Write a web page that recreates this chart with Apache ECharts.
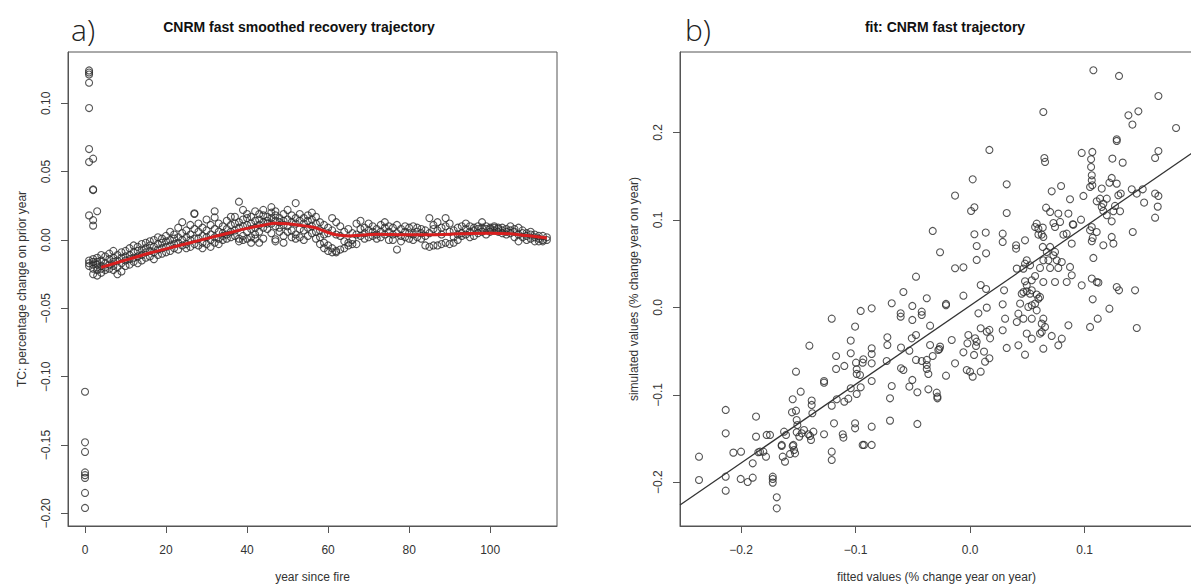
<!DOCTYPE html>
<html><head><meta charset="utf-8">
<script src="https://cdn.jsdelivr.net/npm/echarts@6/dist/echarts.min.js"></script>
<style>html,body{margin:0;padding:0;background:#fff}#c{width:1191px;height:586px}</style>
</head><body><div id="c"></div>
<script>
// ---------- panel a data ----------
const tcYears = [];
for (let y = 0; y <= 114; y++) tcYears.push(y);
const tcByYear = [
[-0.111,-0.148,-0.155,-0.170,-0.172,-0.174,-0.185,-0.196],
[0.124,0.1225,0.121,0.115,0.0965,0.0665,0.057,0.018,-0.015,-0.017,-0.019],
[0.0595,0.037,0.0365,0.0145,0.0105,-0.014,-0.016,-0.018,-0.025,-0.021],
[0.021,-0.013,-0.016,-0.020,-0.026,-0.022,-0.018],
[-0.011,-0.015,-0.019,-0.021,-0.024],
[-0.012,-0.017,-0.020,-0.022],
[-0.010,-0.014,-0.018,-0.021],
[-0.008,-0.013,-0.016,-0.019,-0.022],
[-0.011,-0.015,-0.020,-0.025],
[-0.009,-0.013,-0.017,-0.023],
[-0.008,-0.012,-0.015,-0.019],
[-0.006,-0.011,-0.014,-0.018],
[-0.004,-0.009,-0.013,-0.016],
[-0.005,-0.008,-0.012,-0.017],
[-0.003,-0.007,-0.011,-0.015],
[-0.002,-0.006,-0.009,-0.013],
[-0.001,-0.004,-0.008,-0.012],
[0.000,-0.005,-0.009,-0.014],
[0.002,-0.003,-0.007,-0.011],
[0.001,-0.002,-0.006,-0.010],
[0.003,-0.001,-0.005,-0.009],
[0.006,0.000,-0.004,-0.008],
[0.004,0.001,-0.003,-0.006],
[0.009,0.002,-0.002,-0.007],
[0.013,0.005,0.000,-0.004],
[0.007,0.002,-0.003,-0.006],
[0.011,0.004,0.000,-0.005],
[0.0195,0.019,0.008,0.001,-0.003],
[0.012,0.006,0.001,-0.004],
[0.009,0.003,-0.002,-0.006],
[0.015,0.007,0.002,-0.003],
[0.011,0.004,0.000,-0.005],
[0.021,0.0165,0.008,0.002,-0.002],
[0.012,0.006,0.001,-0.003],
[0.010,0.005,0.003,0.000],
[0.014,0.008,0.004,0.001],
[0.017,0.011,0.006,0.002],
[0.017,0.012,0.007,0.003],
[0.028,0.013,0.009,0.001,-0.001],
[0.022,0.015,0.010,0.003,0.000],
[0.019,0.016,0.011,0.006,0.001],
[0.017,0.012,0.008,0.002,-0.002],
[0.021,0.014,0.009,0.004,0.001],
[0.019,0.015,0.011,0.006,-0.002],
[0.022,0.018,0.013,0.009,0.001],
[0.017,0.014,0.012,0.008],
[0.024,0.020,0.016,0.012,0.005],
[0.021,0.018,0.014,0.010,0.0005,-0.001],
[0.016,0.013,0.009,0.006],
[0.019,0.014,0.011,0.003,-0.002],
[0.022,0.015,0.010,0.006],
[0.018,0.013,0.007,0.002],
[0.027,0.016,0.012,0.004,0.001],
[0.019,0.014,0.008,0.002],
[0.016,0.012,0.007,0.000],
[0.018,0.014,0.009,0.003],
[0.020,0.015,0.010,0.005],
[0.017,0.012,0.006,0.001],
[0.013,0.007,0.002,-0.003],
[0.011,0.004,-0.002,-0.006],
[0.009,0.005,-0.004,-0.008],
[0.016,0.007,-0.006,-0.009],
[0.013,0.004,-0.008,-0.009],
[0.010,0.003,-0.007],
[0.006,-0.001,-0.006],
[0.008,-0.002,-0.004],
[0.005,0.000,-0.003],
[0.012,0.004,-0.003],
[0.014,0.008,0.003],
[0.009,0.005,0.001],
[0.012,0.007,0.002],
[0.010,0.006,0.003],
[0.008,0.004,0.001],
[0.011,0.006,0.002],
[0.013,0.009,0.004],
[0.010,0.006,0.000],
[0.009,0.004,0.000],
[0.011,0.005,-0.007],
[0.008,0.003,-0.001],
[0.010,0.006,0.002],
[0.009,0.005,0.001],
[0.010,0.004,0.000],
[0.009,0.006,0.002],
[0.008,0.005,0.001],
[0.007,0.003,-0.004],
[0.016,0.005,-0.005],
[0.011,0.008,-0.004],
[0.013,0.007,-0.004],
[0.009,0.004,-0.003],
[0.016,0.010,-0.002],
[0.012,0.006,-0.003],
[0.007,0.002,-0.002],
[0.009,0.004,0.000],
[0.010,0.005,0.003],
[0.012,0.008,0.004],
[0.010,0.006,0.002],
[0.009,0.007,0.003],
[0.010,0.008,0.005],
[0.013,0.009,0.006],
[0.010,0.008,0.004],
[0.009,0.008,0.006],
[0.010,0.009,0.007],
[0.009,0.008,0.006],
[0.009,0.007,0.005],
[0.008,0.006,0.004],
[0.010,0.007,0.005],
[0.008,0.006,0.002],
[0.009,0.004,-0.001],
[0.007,0.005,0.002],
[0.005,0.003,0.000],
[0.006,0.004,0.001],
[0.004,0.002,-0.001],
[0.003,0.001,-0.001],
[0.003,0.000,-0.001],
[0.002,0.000]
];
const smoothYears = [4,8,12,16,20,24,28,32,36,40,44,47,50,53,56,58,60,62,65,68,72,76,80,85,90,95,100,105,109,114];
const smoothTC = [-0.020,-0.0165,-0.013,-0.0095,-0.0065,-0.0035,-0.0005,0.0025,0.0055,0.0085,0.0108,0.0122,0.0118,0.0108,0.0095,0.0078,0.0055,0.0038,0.0030,0.0035,0.0042,0.0040,0.0038,0.0038,0.0042,0.0048,0.0050,0.0045,0.0032,0.0015];
const yearTicks = [0,20,40,60,80,100];
const tcTicks = [-0.2,-0.15,-0.1,-0.05,0,0.05,0.1];

// ---------- panel b data: [fitted, simulated] ----------
const fitSimPoints = [
[-0.2367,-0.1707],[-0.2367,-0.1974],[-0.2134,-0.1173],[-0.2134,-0.144],[-0.2134,-0.1936],[-0.2134,-0.2096],
[-0.2067,-0.1661],[-0.2,-0.165],[-0.2003,-0.1962],[-0.1942,-0.1997],[-0.1898,-0.1783],[-0.1898,-0.1947],
[-0.1869,-0.1249],[-0.1869,-0.1478],[-0.1849,-0.1657],[-0.1834,-0.165],[-0.1805,-0.165],[-0.1782,-0.1707],
[-0.1776,-0.1459],[-0.1747,-0.1459],[-0.1723,-0.1936],[-0.1723,-0.1962],[-0.1723,-0.2004],[-0.1688,-0.2172],
[-0.1688,-0.2298],[-0.1645,-0.1573],[-0.1645,-0.1585],[-0.1636,-0.1707],[-0.1624,-0.1421],[-0.1616,-0.1764],
[-0.1607,-0.1459],[-0.1572,-0.1676],[-0.1555,-0.12],[-0.1549,-0.1051],[-0.1549,-0.1585],[-0.1543,-0.1573],
[-0.1537,-0.1631],[-0.1528,-0.1669],[-0.152,-0.0735],[-0.152,-0.1181],[-0.1514,-0.1288],[-0.1514,-0.1428],
[-0.1508,-0.1345],[-0.1491,-0.1478],[-0.1479,-0.0964],[-0.147,-0.144],[-0.145,-0.1402],[-0.1412,-0.1451],
[-0.1403,-0.0438],[-0.1397,-0.147],[-0.1389,-0.1516],[-0.1383,-0.1066],[-0.1383,-0.1116],[-0.1377,-0.1211],
[-0.1368,-0.1421],[-0.1275,-0.0842],[-0.1275,-0.0861],[-0.1275,-0.1451],[-0.1208,-0.1745],[-0.1208,-0.165],
[-0.1208,-0.0129],[-0.1208,-0.1124],[-0.1188,-0.1326],[-0.117,-0.0556],[-0.117,-0.0704],[-0.1164,-0.1051],
[-0.1112,-0.1451],[-0.1106,-0.1489],[-0.1098,-0.067],[-0.1098,-0.1078],[-0.1063,-0.1044],[-0.1042,-0.038],
[-0.1042,-0.0525],[-0.1042,-0.0925],[-0.1004,-0.022],[-0.1004,-0.1326],[-0.1004,-0.1383],[-0.0996,-0.0632],
[-0.099,-0.0708],[-0.099,-0.0761],[-0.099,-0.099],[-0.0961,-0.0773],[-0.0955,-0.0041],[-0.0955,-0.0914],
[-0.0938,-0.0632],[-0.0938,-0.1573],[-0.0932,-0.0594],[-0.0926,-0.1573],[-0.0859,-0.0011],[-0.0859,-0.0468],
[-0.0859,-0.0533],[-0.0859,-0.064],[-0.0859,-0.0842],[-0.0859,-0.1364],[-0.0859,-0.1573],
[0.0169,0.18],[0.0023,0.1464],[-0.0131,0.1278],[0.0009,0.1102],[0.0038,0.1144],[-0.0326,0.0874],
[-0.0262,0.063],[0.0038,0.0836],[0.0137,0.0855],[0.0058,0.0702],[0.014,0.0618],[0.0058,0.0542],
[-0.0131,0.0447],[-0.0058,0.0458],[-0.0472,0.0351],[-0.0582,0.0176],[-0.0378,0.0104],[-0.021,0.0039],
[-0.021,0.0024],[-0.0058,0.0134],[0.0093,0.0256],[0.014,0.021],[-0.0684,0.0047],[-0.0504,0.0016],
[-0.0606,-0.0068],[-0.0606,-0.0106],[-0.0422,-0.0049],[-0.0422,-0.0087],[-0.0504,-0.0144],[-0.0349,-0.0209],
[0.0073,-0.0068],[0.0146,-0.0003],[-0.0722,-0.0342],[-0.0722,-0.043],[-0.0472,-0.0316],[-0.0509,-0.0354],
[-0.0603,-0.046],[-0.053,-0.0495],[-0.0349,-0.043],[-0.0262,-0.0449],[-0.0268,-0.0476],[-0.016,-0.0373],
[-0.0015,-0.0316],[-0.0023,-0.0411],[0.0044,-0.0354],[0.0058,-0.0392],[0.0052,-0.0441],[0.0093,-0.0239],
[0.0146,-0.0278],[0.0169,-0.0258],[0.0175,-0.0354],[-0.0058,-0.0514],[0.0035,-0.0544],[0.0122,-0.0506],
[0.0169,-0.0582],[0.0131,-0.0621],[-0.0728,-0.0613],[-0.0603,-0.0697],[-0.0582,-0.0716],[-0.0472,-0.0601],
[-0.0422,-0.0613],[-0.0378,-0.0601],[-0.0378,-0.0659],[-0.0378,-0.0704],[-0.0364,-0.0762],[-0.0326,-0.0556],
[-0.0277,-0.0487],[-0.0131,-0.064],[-0.021,-0.0781],[-0.0029,-0.0716],[0.0,-0.0735],[0.0023,-0.0792],
[0.0093,-0.0735],[-0.0684,-0.0899],[-0.0504,-0.083],[-0.053,-0.0906],[-0.046,-0.0971],[-0.0364,-0.0937],
[-0.0291,-0.0975],[-0.0285,-0.1021],[-0.0285,-0.104],[-0.0699,-0.104],[-0.0699,-0.1295],[-0.046,-0.1333],
[0.1077,0.2711],[0.1301,0.2646],[0.1645,0.2417],[0.064,0.2234],[0.1383,0.2196],[0.147,0.2242],
[0.1418,0.209],[0.1799,0.2051],[0.1281,0.1922],[0.1281,0.1903],[0.0975,0.1766],[0.1068,0.1777],
[0.0649,0.1708],[0.0655,0.1663],[0.1057,0.1693],[0.1057,0.1605],[0.1243,0.1701],[0.1333,0.1655],
[0.1645,0.1788],[0.1616,0.1708],[0.1063,0.151],[0.1063,0.1453],[0.1068,0.1396],[0.1048,0.1377],
[0.1237,0.148],[0.1281,0.1415],[0.1295,0.1282],[0.1316,0.1301],[0.1217,0.1426],[0.115,0.1358],
[0.1135,0.1243],[0.1194,0.1243],[0.1164,0.1186],[0.1412,0.135],[0.1456,0.1301],[0.1508,0.135],
[0.1616,0.1301],[0.1645,0.1274],[0.152,0.1198],[0.1639,0.1152],[0.1616,0.1026],[0.131,0.1099],
[0.1266,0.116],[0.1252,0.1099],[0.1237,0.0984],[0.1194,0.1053],[0.115,0.1148],[0.1164,0.1102],
[0.1106,0.1213],[0.099,0.1274],[0.0873,0.1236],[0.0795,0.1388],[0.0713,0.1327],[0.032,0.1407],
[0.032,0.1079],[0.0664,0.114],[0.0699,0.1091],[0.0771,0.1072],[0.0859,0.1072],[0.0969,0.1003],
[0.0897,0.095],[0.0902,0.0946],[0.0786,0.0977],[0.0728,0.0965],[0.0815,0.0832],[0.0844,0.0843],
[0.0742,0.0919],[0.1063,0.0919],[0.1048,0.0881],[0.1106,0.0862],[0.1071,0.0794],[0.1063,0.0756],
[0.1164,0.071],[0.1237,0.0805],[0.1252,0.0729],[0.1421,0.0862],[0.0582,0.0957],[0.0568,0.0919],
[0.0597,0.09],[0.0626,0.0832],[0.064,0.0805],[0.0635,0.0912],[0.048,0.0767],[0.0402,0.071],
[0.0402,0.0672],[0.0285,0.0843],[0.0285,0.0748],[0.0597,0.0832],[0.0635,0.0691],[0.0699,0.0691],
[0.067,0.0634],[0.0742,0.0634],[0.0888,0.0729],[0.0728,0.0595],[0.064,0.0538],[0.0684,0.0538],
[0.0757,0.0538],[0.0801,0.0519],[0.0771,0.0451],[0.0699,0.0451],[0.0611,0.0451],[0.0495,0.0538],
[0.048,0.05],[0.0466,0.0443],[0.0408,0.0443],[0.0524,0.0481],[0.048,0.0298],[0.0539,0.031],
[0.0568,0.0359],[0.064,0.029],[0.0742,0.029],[0.0844,0.029],[0.0888,0.0367],[0.0873,0.0462],
[0.0975,0.0252],[0.1063,0.0329],[0.1106,0.029],[0.1121,0.0283],[0.1077,0.0565],[0.0495,0.0252],
[0.0466,0.0176],[0.0451,0.0157],[0.0495,0.0184],[0.0539,0.0195],[0.0582,0.0146],[0.0597,0.01],
[0.0568,0.0043],[0.0539,0.0024],[0.0509,0.0005],[0.0582,-0.0034],[0.0611,0.0119],[0.0524,0.0157],
[0.0437,0.0043],[0.0466,-0.0129],[0.0422,-0.0072],[0.0408,-0.0167],[0.0539,-0.0129],[0.064,-0.0129],
[0.0626,-0.0186],[0.0655,-0.0224],[0.0611,-0.03],[0.0626,-0.0281],[0.0713,-0.0327],[0.0495,-0.03],
[0.0539,-0.0358],[0.0801,-0.0358],[0.0771,-0.0434],[0.0422,-0.0434],[0.032,-0.0464],[0.048,-0.0541],
[0.064,-0.0472],[0.0285,0.0035],[0.0297,0.0195],[0.0306,-0.0129],[0.0285,-0.0262],[0.0859,-0.0205],
[0.1048,-0.0224],[0.1115,-0.0129],[0.1071,0.0092],[0.1217,-0.0015],[0.1281,0.0233],[0.1301,0.0195],
[0.1441,0.0195],[0.1456,-0.0236]
];
const fitLineX = [-0.2533, 0.1947];
const fitLineY = [-0.226, 0.1772];
const fitTicksX = [-0.2,-0.1,0,0.1];
const fitTicksY = [-0.2,-0.1,0,0.1,0.2];

// ---------- build ----------
const tcPoints = [];
tcYears.forEach((yr, i) => (tcByYear[i] || []).forEach(v => tcPoints.push([yr, v])));
const smoothLine = smoothYears.map((y, i) => [y, smoothTC[i]]);
const fitLine = fitLineX.map((x, i) => [x, fitLineY[i]]);

const FONT = '"Liberation Sans", Arial, Helvetica, sans-serif';
const minus = (v, d) => (v < 0 ? '\u2212' : '') + Math.abs(v).toFixed(d);

function xAxisCfg(grid, min, max, ticks, dec, name) {
  return {
    type: 'value', gridIndex: grid, min, max,
    name, nameLocation: 'middle', nameGap: 45,
    nameTextStyle: { color: '#333', fontSize: 12, fontFamily: FONT },
    axisLine: { show: true, onZero: false, lineStyle: { color: '#555', width: 1 } },
    axisTick: { show: true, inside: false, length: 7, customValues: ticks, lineStyle: { color: '#555', width: 1 } },
    axisLabel: { show: true, margin: 18, customValues: ticks, color: '#333', fontSize: 12, fontFamily: FONT,
      formatter: v => (dec === 0 ? String(Math.round(v)) : minus(v, dec)) },
    splitLine: { show: false }
  };
}
function yAxisCfg(grid, min, max, ticks, dec, name) {
  return {
    type: 'value', gridIndex: grid, min, max,
    name, nameLocation: 'middle', nameGap: 40, nameRotate: 90,
    nameTextStyle: { color: '#333', fontSize: 12, fontFamily: FONT },
    axisLine: { show: true, onZero: false, lineStyle: { color: '#555', width: 1 } },
    axisTick: { show: true, inside: false, length: 7, customValues: ticks, lineStyle: { color: '#555', width: 1 } },
    axisLabel: { show: true, margin: 16, rotate: 90, customValues: ticks, color: '#333', fontSize: 12, fontFamily: FONT,
      formatter: v => minus(v, dec) },
    splitLine: { show: false }
  };
}

const pointStyle = { color: 'rgba(0,0,0,0)', borderColor: '#2a2a2a', borderWidth: 1.1 };

const chart = echarts.init(document.getElementById('c'), null, { renderer: 'svg' });
chart.setOption({
  animation: false,
  backgroundColor: '#fff',
  grid: [
    { left: 68, top: 52, width: 489, height: 474, show: true, borderColor: '#555', borderWidth: 1, containLabel: false, outerBoundsMode: 'none' },
    { left: 680, top: 52, width: 513, height: 474, show: true, borderColor: '#555', borderWidth: 1, containLabel: false, outerBoundsMode: 'none' }
  ],
  xAxis: [
    xAxisCfg(0, -4.2, 116.5, yearTicks, 0, 'year since fire'),
    xAxisCfg(1, -0.2533, 0.1947, fitTicksX, 1, 'fitted values (% change year on year)')
  ],
  yAxis: [
    yAxisCfg(0, -0.2092, 0.1375, tcTicks, 2, 'TC: percentage change on prior year'),
    yAxisCfg(1, -0.25, 0.292, fitTicksY, 1, 'simulated values (% change year on year)')
  ],
  graphic: [
    { type: 'text', x: 71, y: 29, style: { text: 'a)', font: '300 30px "Open Sans", "Noto Sans", sans-serif', fill: '#222', verticalAlign: 'middle', align: 'left' } },
    { type: 'text', x: 299, y: 27, style: { text: 'CNRM fast smoothed recovery trajectory', font: 'bold 14px ' + FONT, fill: '#111', verticalAlign: 'middle', align: 'center' } },
    { type: 'text', x: 685, y: 29, style: { text: 'b)', font: '300 30px "Open Sans", "Noto Sans", sans-serif', fill: '#222', verticalAlign: 'middle', align: 'left' } },
    { type: 'text', x: 945, y: 27, style: { text: 'fit: CNRM fast trajectory', font: 'bold 14px ' + FONT, fill: '#111', verticalAlign: 'middle', align: 'center' } }
  ],
  series: [
    { type: 'scatter', xAxisIndex: 0, yAxisIndex: 0, data: tcPoints, symbol: 'circle', symbolSize: 7,
      itemStyle: pointStyle, emphasis: { disabled: true }, silent: true, z: 2 },
    { type: 'line', xAxisIndex: 0, yAxisIndex: 0, data: smoothLine, smooth: 0.4, showSymbol: false, symbol: 'none',
      lineStyle: { color: '#d81e1e', width: 3 }, silent: true, z: 3 },
    { type: 'scatter', xAxisIndex: 1, yAxisIndex: 1, data: fitSimPoints, symbol: 'circle', symbolSize: 7,
      itemStyle: pointStyle, emphasis: { disabled: true }, silent: true, z: 2 },
    { type: 'line', xAxisIndex: 1, yAxisIndex: 1, data: fitLine, showSymbol: false, symbol: 'none',
      lineStyle: { color: '#333', width: 1.3 }, silent: true, z: 3 }
  ]
});
</script></body></html>
